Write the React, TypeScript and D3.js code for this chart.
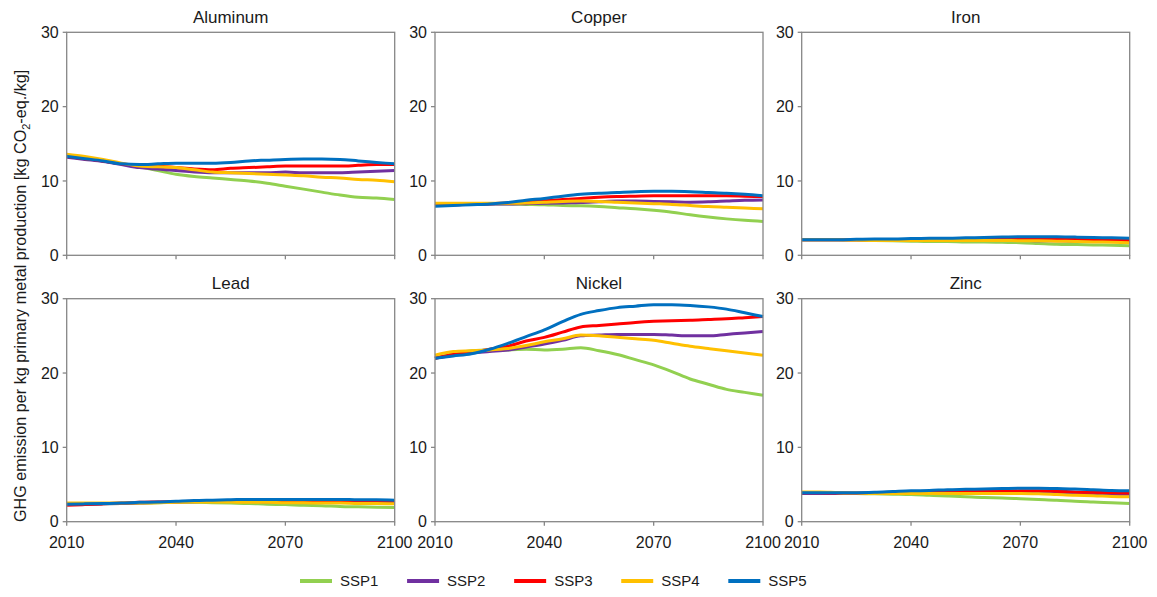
import React from "react";
import * as d3 from "d3";

// Years sampled every five years, 2010–2100
const years = d3.range(2010, 2101, 5);

const scenarios = ["SSP1", "SSP2", "SSP3", "SSP4", "SSP5"];
const scenarioColors = ["#92d050", "#7030a0", "#ff0000", "#ffc000", "#0070c0"];

const metals = ["Aluminum", "Copper", "Iron", "Lead", "Nickel", "Zinc"];

const xTicks = [2010, 2040, 2070, 2100];
const yTicks = [0, 10, 20, 30];

// GHG intensity per metal, one row per scenario (SSP1..SSP5)
const aluminum = [
  [13.3, 13.0, 12.7, 12.3, 11.9, 11.4, 10.9, 10.6, 10.4, 10.2, 10.0, 9.7, 9.3, 8.9, 8.5, 8.1, 7.8, 7.7, 7.5],
  [13.2, 12.9, 12.6, 12.2, 11.8, 11.6, 11.4, 11.2, 11.1, 11.1, 11.1, 11.1, 11.2, 11.1, 11.1, 11.1, 11.2, 11.3, 11.4],
  [13.3, 13.0, 12.7, 12.3, 12.1, 12.0, 11.8, 11.6, 11.5, 11.7, 11.8, 11.9, 12.0, 12.0, 12.0, 12.0, 12.1, 12.2, 12.2],
  [13.6, 13.3, 12.9, 12.4, 12.0, 11.9, 11.8, 11.5, 11.2, 11.1, 11.0, 10.9, 10.8, 10.7, 10.5, 10.4, 10.2, 10.1, 9.9],
  [13.3, 13.0, 12.7, 12.3, 12.2, 12.3, 12.4, 12.4, 12.4, 12.5, 12.7, 12.8, 12.9, 12.95, 12.95, 12.9, 12.7, 12.5, 12.3],
];

const copper = [
  [6.8, 6.85, 6.9, 6.9, 6.9, 6.85, 6.8, 6.7, 6.65, 6.55, 6.4, 6.25, 6.05, 5.8, 5.45, 5.15, 4.9, 4.7, 4.55],
  [6.7, 6.8, 6.85, 6.9, 6.9, 6.95, 7.0, 7.05, 7.1, 7.2, 7.3, 7.3, 7.25, 7.2, 7.15, 7.2, 7.3, 7.4, 7.45],
  [6.7, 6.8, 6.85, 6.95, 7.05, 7.15, 7.35, 7.5, 7.65, 7.8, 7.9, 7.95, 8.0, 8.0, 8.0, 8.0, 8.0, 7.95, 7.9],
  [7.0, 7.0, 7.0, 7.0, 7.0, 7.05, 7.15, 7.25, 7.3, 7.25, 7.15, 7.05, 6.95, 6.85, 6.7, 6.55, 6.45, 6.35, 6.25],
  [6.6, 6.7, 6.8, 6.9, 7.1, 7.4, 7.65, 7.95, 8.2, 8.35, 8.45, 8.55, 8.6, 8.6, 8.55, 8.45, 8.35, 8.2, 8.0],
];

const iron = [
  [2.1, 2.1, 2.1, 2.05, 2.0, 1.95, 1.9, 1.85, 1.85, 1.8, 1.8, 1.75, 1.7, 1.6, 1.5, 1.45, 1.4, 1.35, 1.3],
  [2.1, 2.1, 2.1, 2.1, 2.05, 2.05, 2.0, 2.0, 2.0, 2.0, 2.0, 2.0, 2.0, 1.95, 1.95, 1.9, 1.9, 1.9, 1.9],
  [2.1, 2.1, 2.1, 2.1, 2.1, 2.1, 2.1, 2.1, 2.15, 2.15, 2.2, 2.2, 2.2, 2.2, 2.2, 2.15, 2.1, 2.05, 2.0],
  [2.1, 2.1, 2.1, 2.05, 2.0, 2.0, 2.0, 2.0, 2.0, 2.0, 2.0, 2.0, 1.95, 1.95, 1.9, 1.85, 1.8, 1.75, 1.7],
  [2.1, 2.1, 2.1, 2.15, 2.2, 2.2, 2.25, 2.3, 2.3, 2.35, 2.4, 2.45, 2.5, 2.5, 2.5, 2.45, 2.4, 2.35, 2.3],
];

const lead = [
  [2.3, 2.35, 2.4, 2.45, 2.5, 2.55, 2.6, 2.6, 2.55, 2.5, 2.45, 2.35, 2.3, 2.2, 2.15, 2.05, 2.0, 1.95, 1.9],
  [2.3, 2.35, 2.4, 2.45, 2.5, 2.6, 2.65, 2.7, 2.75, 2.75, 2.75, 2.7, 2.7, 2.65, 2.65, 2.6, 2.6, 2.6, 2.6],
  [2.2, 2.3, 2.4, 2.5, 2.6, 2.65, 2.7, 2.75, 2.8, 2.85, 2.85, 2.85, 2.85, 2.85, 2.85, 2.85, 2.85, 2.8, 2.8],
  [2.5, 2.5, 2.5, 2.5, 2.5, 2.55, 2.6, 2.65, 2.65, 2.65, 2.6, 2.6, 2.55, 2.55, 2.5, 2.5, 2.45, 2.45, 2.4],
  [2.35, 2.4, 2.45, 2.5, 2.6, 2.65, 2.75, 2.85, 2.9, 2.95, 3.0, 3.0, 3.0, 3.0, 3.0, 3.0, 2.95, 2.95, 2.9],
];

const nickel = [
  [22.0, 22.6, 23.0, 23.1, 23.1, 23.2, 23.1, 23.2, 23.4, 23.0, 22.5, 21.8, 21.1, 20.2, 19.2, 18.5, 17.8, 17.4, 17.0],
  [22.0, 22.4, 22.7, 22.9, 23.1, 23.5, 23.9, 24.4, 25.0, 25.1, 25.2, 25.2, 25.2, 25.1, 25.0, 25.0, 25.2, 25.4, 25.6],
  [22.0, 22.5, 22.8, 23.2, 23.6, 24.3, 24.8, 25.5, 26.2, 26.4, 26.6, 26.8, 26.95, 27.05, 27.1, 27.2, 27.3, 27.45, 27.6],
  [22.4, 22.9, 23.0, 23.1, 23.3, 23.7, 24.2, 24.6, 25.1, 25.0, 24.8, 24.6, 24.4, 24.0, 23.6, 23.3, 23.0, 22.7, 22.4],
  [22.0, 22.3, 22.6, 23.2, 24.0, 24.9, 25.8, 26.9, 27.9, 28.4, 28.8, 29.0, 29.2, 29.2, 29.1, 28.9, 28.6, 28.1, 27.6],
];

const zinc = [
  [3.9, 3.9, 3.85, 3.8, 3.75, 3.7, 3.65, 3.55, 3.45, 3.35, 3.25, 3.2, 3.1, 3.0, 2.9, 2.75, 2.65, 2.55, 2.45],
  [3.8, 3.8, 3.8, 3.8, 3.8, 3.8, 3.8, 3.8, 3.85, 3.85, 3.85, 3.85, 3.85, 3.85, 3.8, 3.8, 3.75, 3.7, 3.7],
  [3.9, 3.9, 3.85, 3.85, 3.85, 3.9, 3.9, 3.95, 4.0, 4.05, 4.1, 4.1, 4.15, 4.15, 4.1, 4.0, 3.95, 3.9, 3.85],
  [4.0, 4.0, 3.9, 3.85, 3.8, 3.8, 3.8, 3.8, 3.8, 3.8, 3.8, 3.8, 3.8, 3.75, 3.65, 3.55, 3.5, 3.4, 3.35],
  [3.9, 3.9, 3.9, 3.9, 3.95, 4.05, 4.15, 4.2, 4.3, 4.35, 4.4, 4.45, 4.5, 4.5, 4.45, 4.4, 4.3, 4.2, 4.15],
];

const metalSeries = [aluminum, copper, iron, lead, nickel, zinc];

const WIDTH = 1157;
const HEIGHT = 597;
const FONT = "'Liberation Sans', Arial, sans-serif";
const AXIS = "#868686";
const TEXT = "#1a1a1a";
const TICK_FONT = 16;

const panelLefts = [66.7, 435, 801.7];
const panelTops = [32.3, 298.7];
const panelW = 328;
const panelH = 223;

function Panel({ name, series, left, top, showXLabels }) {
  const x = d3.scaleLinear().domain([2010, 2100]).range([left, left + panelW]);
  const y = d3.scaleLinear().domain([0, 30]).range([top + panelH, top]);
  const line = d3
    .line<number>()
    .x((_, i) => x(years[i]))
    .y((d) => y(d))
    .curve(d3.curveMonotoneX);
  const bottom = top + panelH;
  return (
    <g>
      <text
        x={left + panelW / 2}
        y={top - 9.6}
        textAnchor="middle"
        fontSize={17}
        fill={TEXT}
        fontFamily={FONT}
      >
        {name}
      </text>
      {series.map((vals, si) => (
        <path
          key={scenarios[si]}
          d={line(vals) || ""}
          fill="none"
          stroke={scenarioColors[si]}
          strokeWidth={3}
          strokeLinejoin="round"
          strokeLinecap="butt"
        />
      ))}
      <rect
        x={left}
        y={top}
        width={panelW}
        height={panelH}
        fill="none"
        stroke={AXIS}
        strokeWidth={1.3}
      />
      {yTicks.map((t) => (
        <g key={"y" + t}>
          <line x1={left - 4} x2={left} y1={y(t)} y2={y(t)} stroke={AXIS} strokeWidth={1.3} />
          <text
            x={left - 8}
            y={y(t)}
            dy="0.36em"
            textAnchor="end"
            fontSize={TICK_FONT}
            fill={TEXT}
            fontFamily={FONT}
          >
            {t}
          </text>
        </g>
      ))}
      {xTicks.map((t) => (
        <g key={"x" + t}>
          <line x1={x(t)} x2={x(t)} y1={bottom} y2={bottom + 4} stroke={AXIS} strokeWidth={1.3} />
          {showXLabels && (
            <text
              x={x(t)}
              y={bottom + 26}
              textAnchor="middle"
              fontSize={TICK_FONT}
              fill={TEXT}
              fontFamily={FONT}
            >
              {t}
            </text>
          )}
        </g>
      ))}
    </g>
  );
}

export default function App() {
  const legendX = d3.scaleLinear().domain([0, 4]).range([300, 728.3]);
  return (
    <svg
      width={WIDTH}
      height={HEIGHT}
      style={{ position: "absolute", left: 0, top: 0, background: "#fff" }}
    >
      <rect width={WIDTH} height={HEIGHT} fill="#fff" />
      {metals.map((m, i) => (
        <Panel
          key={m}
          name={m}
          series={metalSeries[i]}
          left={panelLefts[i % 3]}
          top={panelTops[Math.floor(i / 3)]}
          showXLabels={i >= 3}
        />
      ))}
      <text
        transform="translate(26,522) rotate(-90)"
        textAnchor="start"
        fontSize={16.2}
        fill={TEXT}
        fontFamily={FONT}
      >
        GHG emission per kg primary metal production [kg CO
        <tspan fontSize={11} dy={4}>2</tspan>
        <tspan dy={-4}>-eq./kg]</tspan>
      </text>
      {scenarios.map((s, i) => (
        <g key={s}>
          <line
            x1={legendX(i)}
            x2={legendX(i) + 32}
            y1={581}
            y2={581}
            stroke={scenarioColors[i]}
            strokeWidth={4}
          />
          <text
            x={legendX(i) + 40}
            y={581}
            dy="0.36em"
            fontSize={15}
            fill={TEXT}
            fontFamily={FONT}
          >
            {s}
          </text>
        </g>
      ))}
    </svg>
  );
}
